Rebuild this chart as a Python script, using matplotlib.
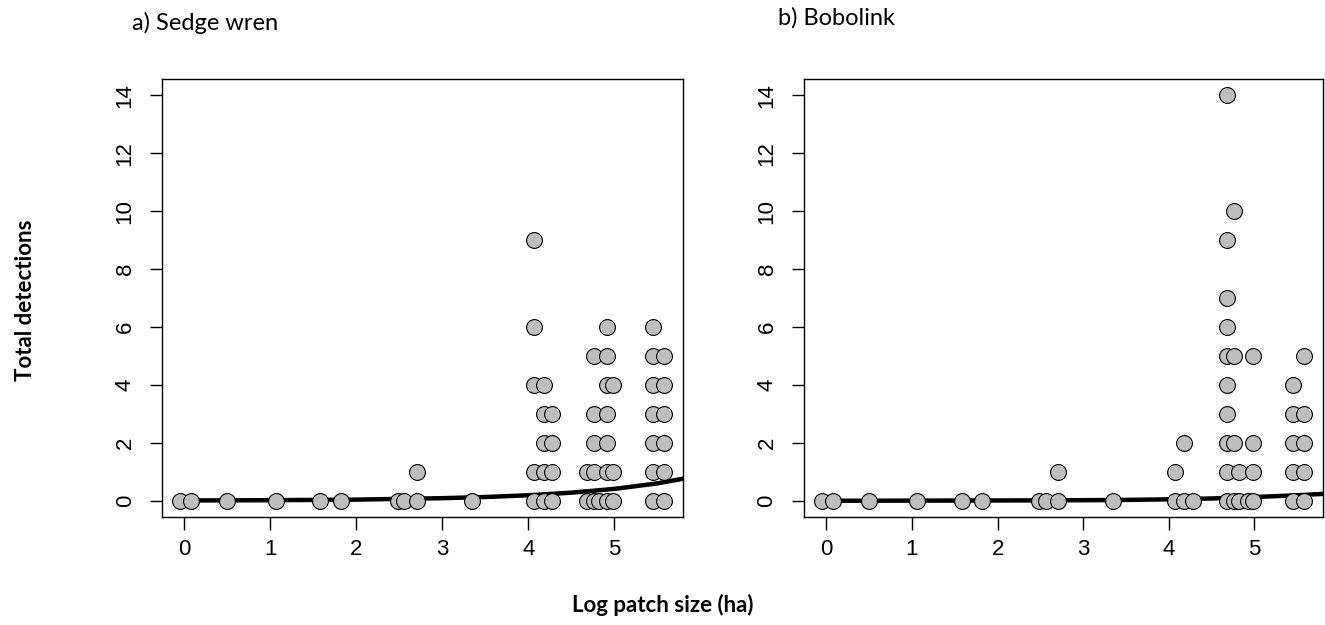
import matplotlib
matplotlib.use("Agg")
import matplotlib.pyplot as plt

# log patch size of each surveyed site (same sites in both panels)
site_x = [-0.05, 0.08, 0.50, 1.06, 1.58, 1.82, 2.48, 2.56, 2.70, 3.35,
          4.07, 4.18, 4.28, 4.68, 4.76, 4.82, 4.92, 4.98, 5.45, 5.58]

# detections recorded at each site
wren_counts = [[0], [0], [0], [0], [0], [0], [0], [0], [0, 1], [0],
               [0, 1, 4, 6, 9], [0, 1, 2, 3, 4], [0, 1, 2, 3],
               [0, 1], [0, 1, 2, 3, 5], [0], [0, 1, 2, 3, 4, 5, 6], [0, 1, 4],
               [0, 1, 2, 3, 4, 5, 6], [0, 1, 2, 3, 4, 5]]
bob_counts = [[0], [0], [0], [0], [0], [0], [0], [0], [0, 1], [0],
              [0, 1], [0, 2], [0],
              [0, 1, 2, 3, 4, 5, 6, 7, 9, 14], [0, 2, 5, 10], [0, 1], [0], [0, 1, 2, 5],
              [0, 1, 2, 3, 4], [0, 1, 2, 3, 5]]

# fitted curves
fit_x = [-0.05, 1, 2, 3, 3.5, 4, 4.5, 5, 5.5, 6.0]
wren_fit = [0.01, 0.02, 0.04, 0.09, 0.13, 0.19, 0.28, 0.41, 0.60, 0.87]
bob_fit = [0.0, 0.005, 0.01, 0.02, 0.03, 0.05, 0.08, 0.13, 0.19, 0.27]

titles = ["a) Sedge wren", "b) Bobolink"]


def expand(counts):
    xs, ys = [], []
    for x, c in zip(site_x, counts):
        for v in c:
            xs.append(x)
            ys.append(v)
    return xs, ys


fig = plt.figure(figsize=(13.25, 6.25), dpi=100)
ax1 = fig.add_axes([0.1223, 0.1728, 0.3932, 0.7008])
ax2 = fig.add_axes([0.6068, 0.1728, 0.3917, 0.7008])

for ax, counts, fit in [(ax1, wren_counts, wren_fit), (ax2, bob_counts, bob_fit)]:
    xs, ys = expand(counts)
    ax.scatter(xs, ys, s=130, facecolor="#bebebe", edgecolor="black", linewidth=0.8, zorder=3)
    ax.plot(fit_x, fit, color="black", lw=3.2, zorder=2)
    ax.set_xlim(-0.26, 5.8)
    ax.set_ylim(-0.56, 14.56)
    ax.set_xticks(range(0, 6))
    ax.set_yticks(range(0, 15, 2))
    ax.tick_params(length=9, width=1, labelsize=16, pad=7)
    ax.tick_params(axis="y", pad=10)
    for lab in ax.get_yticklabels():
        lab.set_rotation(90)
        lab.set_va("center")
    for sp in ax.spines.values():
        sp.set_linewidth(1)
    for lab in ax.get_xticklabels() + ax.get_yticklabels():
        lab.set_family("Liberation Sans")

fig.text(0.1, 0.963, titles[0], fontsize=17, family="Lato", va="center")
fig.text(0.587, 0.971, titles[1], fontsize=17, family="Lato", va="center")
fig.text(0.5, 0.032, "Log patch size (ha)", fontsize=16, family="Lato", fontweight="bold",
         ha="center", va="center")
fig.text(0.019, 0.52, "Total detections", fontsize=16, family="Lato", fontweight="bold",
         rotation=90, ha="center", va="center")

fig.savefig("out.png", dpi=100)
